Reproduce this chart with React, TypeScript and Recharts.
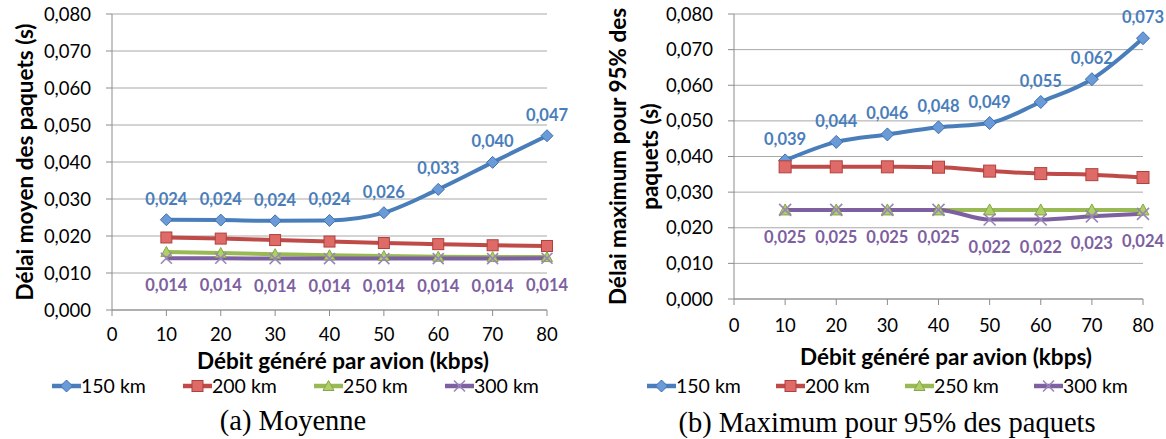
import React from 'react';
import { LineChart, Line, XAxis, YAxis, CartesianGrid, LabelList } from 'recharts';

// x categories (kbps) and series
const rates = [10, 20, 30, 40, 50, 60, 70, 80];
const seriesNames = ['150 km', '200 km', '250 km', '300 km'];
const xTicks = [0, 10, 20, 30, 40, 50, 60, 70, 80];
const yTicks = [0, 0.01, 0.02, 0.03, 0.04, 0.05, 0.06, 0.07, 0.08];

// (a) Moyenne
const mean150 = [0.0244, 0.0243, 0.0241, 0.0242, 0.0263, 0.0326, 0.0399, 0.0471];
const mean200 = [0.0196, 0.0193, 0.0189, 0.0185, 0.0181, 0.0178, 0.0175, 0.0173];
const mean250 = [0.0157, 0.0154, 0.0151, 0.0148, 0.0146, 0.0144, 0.0143, 0.0143];
const mean300 = [0.014, 0.014, 0.0139, 0.0139, 0.0139, 0.0139, 0.0139, 0.014];

// (b) Maximum pour 95% des paquets
const max150 = [0.0389, 0.0441, 0.0462, 0.0482, 0.0494, 0.0553, 0.0617, 0.0732];
const max200 = [0.0371, 0.0371, 0.0371, 0.037, 0.0359, 0.0352, 0.0349, 0.0341];
const max250 = [0.025, 0.025, 0.025, 0.025, 0.025, 0.025, 0.025, 0.025];
const max300 = [0.025, 0.025, 0.025, 0.025, 0.0223, 0.0223, 0.0232, 0.0239];

const FONT = 'Lato, "Open Sans", sans-serif';
const SERIF = '"Liberation Serif", "DejaVu Serif", serif';
const COLORS = ['#4A7EBB', '#BE4B48', '#98B954', '#7D60A0'];
const KEYS = ['s150', 's200', 's250', 's300'];

const fmt = (v: number) => v.toFixed(3).replace('.', ',');

const buildRows = (a: number[], b: number[], c: number[], d: number[]) =>
  rates.map((r, i) => ({ rate: r, s150: a[i], s200: b[i], s250: c[i], s300: d[i] }));

const meanData = buildRows(mean150, mean200, mean250, mean300);
const maxData = buildRows(max150, max200, max250, max300);

// markers
const Marker = ({ kind, cx, cy, s = 5 }: { kind: number; cx: number; cy: number; s?: number }) => {
  if (kind === 0)
    return (
      <polygon
        points={`${cx},${cy - s - 0.5} ${cx + s + 0.5},${cy} ${cx},${cy + s + 0.5} ${cx - s - 0.5},${cy}`}
        fill="#6A9BD8"
        stroke="#3F70AE"
        strokeWidth={1}
      />
    );
  if (kind === 1)
    return <rect x={cx - s} y={cy - s} width={s * 2} height={s * 2} fill="#DE6B67" stroke="#B0403D" strokeWidth={1} />;
  if (kind === 2)
    return (
      <polygon
        points={`${cx},${cy - s} ${cx + s},${cy + s - 1} ${cx - s},${cy + s - 1}`}
        fill="#AECF6A"
        stroke="#86A843"
        strokeWidth={1}
      />
    );
  return (
    <g stroke="#9A84B8" strokeWidth={1.6}>
      <line x1={cx - s} y1={cy - s} x2={cx + s} y2={cy + s} />
      <line x1={cx - s} y1={cy + s} x2={cx + s} y2={cy - s} />
    </g>
  );
};

const valueLabel = (color: string, dy: number) => (p: any) => {
  const vb = p.viewBox || {};
  const x = (vb.x ?? p.x) + (vb.width || 0) / 2;
  const y = vb.y ?? p.y;
  return (
    <text
      x={x}
      y={y + dy}
      textAnchor="middle"
      fill={color}
      fontSize={16.5}
      fontWeight={700}
      fontFamily={FONT}
    >
      {fmt(Number(p.value))}
    </text>
  );
};

interface PanelProps {
  data: any[];
  width: number;
  yAxisWidth: number;
  rightMargin: number;
  bottomMargin: number;
  tickMarginX: number;
  yTitle: string[];
  yTitleX: number[];
  xTitleX: number;
  xTitleY: number;
  markerSize: number;
}

const Panel = (p: PanelProps) => {
  const tickStyle = { fill: '#000', fontSize: 18.5, fontFamily: FONT };
  return (
    <LineChart
      width={p.width}
      height={439}
      data={p.data}
      margin={{ top: 14, right: p.rightMargin, left: 0, bottom: p.bottomMargin }}
    >
      <CartesianGrid vertical={false} stroke="#A8A8A8" strokeWidth={1} />
      <XAxis
        dataKey="rate"
        type="number"
        domain={[0, 80]}
        ticks={xTicks}
        height={60}
        tick={tickStyle}
        tickSize={6}
        tickMargin={p.tickMarginX}
        stroke="#8C8C8C"
        tickLine={{ stroke: '#8C8C8C' }}
        label={{
          content: () => (
            <text
              x={p.xTitleX}
              y={p.xTitleY}
              textAnchor="middle"
              fontSize={22.5}
              fontWeight={700}
              fontFamily={FONT}
              fill="#000"
            >
              Débit généré par avion (kbps)
            </text>
          ),
        }}
      />
      <YAxis
        type="number"
        domain={[0, 0.08]}
        ticks={yTicks}
        width={p.yAxisWidth}
        tick={tickStyle}
        tickSize={6}
        tickMargin={15}
        tickFormatter={fmt}
        stroke="#8C8C8C"
        tickLine={{ stroke: '#8C8C8C' }}
        label={{
          content: (lp: any) => {
            const vb = lp.viewBox || {};
            const cy = vb.y + vb.height / 2;
            return (
              <g>
                {p.yTitle.map((t, i) => (
                  <text
                    key={t}
                    x={p.yTitleX[i]}
                    y={cy}
                    transform={`rotate(-90, ${p.yTitleX[i]}, ${cy})`}
                    textAnchor="middle"
                    dominantBaseline="central"
                    fontSize={22.5}
                    fontWeight={700}
                    fontFamily={FONT}
                    fill="#000"
                  >
                    {t}
                  </text>
                ))}
              </g>
            );
          },
        }}
      />
      {KEYS.map((k, i) => (
        <Line
          key={k}
          dataKey={k}
          name={seriesNames[i]}
          type="monotone"
          stroke={COLORS[i]}
          strokeWidth={4}
          isAnimationActive={false}
          dot={(d: any) => <Marker key={`${k}-${d.index}`} kind={i} cx={d.cx} cy={d.cy} s={p.markerSize} />}
          activeDot={false}
        >
          {i === 0 && <LabelList dataKey={k} content={valueLabel(COLORS[0], -15)} />}
          {i === 3 && <LabelList dataKey={k} content={valueLabel(COLORS[3], 33)} />}
        </Line>
      ))}
    </LineChart>
  );
};

const Legend = ({ x0, step, y }: { x0: number; step: number; y: number }) => (
  <g>
    {seriesNames.map((n, i) => {
      const x = x0 + i * step;
      return (
        <g key={n}>
          <line x1={x} y1={y} x2={x + 29} y2={y} stroke={COLORS[i]} strokeWidth={4.5} />
          <Marker kind={i} cx={x + 14.5} cy={y} s={5.5} />
          <text x={x + 29} y={y + 7} fontSize={19.5} fontFamily={FONT} fill="#000">
            {n}
          </text>
        </g>
      );
    })}
  </g>
);

export default function App() {
  return (
    <div style={{ position: 'absolute', left: 0, top: 0, width: 1166, height: 439, background: '#fff' }}>
      <div style={{ position: 'absolute', left: 0, top: 0 }}>
        <Panel
          data={meanData}
          width={580}
          yAxisWidth={112}
          rightMargin={33}
          bottomMargin={69}
          tickMarginX={12}
          yTitle={['Délai moyen des paquets (s)']}
          yTitleX={[24]}
          xTitleX={343}
          xTitleY={369}
          markerSize={5.5}
        />
      </div>
      <div style={{ position: 'absolute', left: 580, top: 0 }}>
        <Panel
          data={maxData}
          width={586}
          yAxisWidth={154}
          rightMargin={23}
          bottomMargin={80}
          tickMarginX={14}
          yTitle={['Délai maximum pour 95% des', 'paquets (s)']}
          yTitleX={[37, 69]}
          xTitleX={366}
          xTitleY={365}
          markerSize={6}
        />
      </div>
      <svg
        width={1166}
        height={439}
        style={{ position: 'absolute', left: 0, top: 0, pointerEvents: 'none' }}
      >
        <Legend x0={52} step={131} y={386} />
        <Legend x0={647} step={129} y={386} />
        <text x={293} y={430} textAnchor="middle" fontSize={28.5} fontFamily={SERIF} fill="#000">
          (a) Moyenne
        </text>
        <text x={887} y={432} textAnchor="middle" fontSize={28.5} fontFamily={SERIF} fill="#000">
          (b) Maximum pour 95% des paquets
        </text>
      </svg>
    </div>
  );
}
